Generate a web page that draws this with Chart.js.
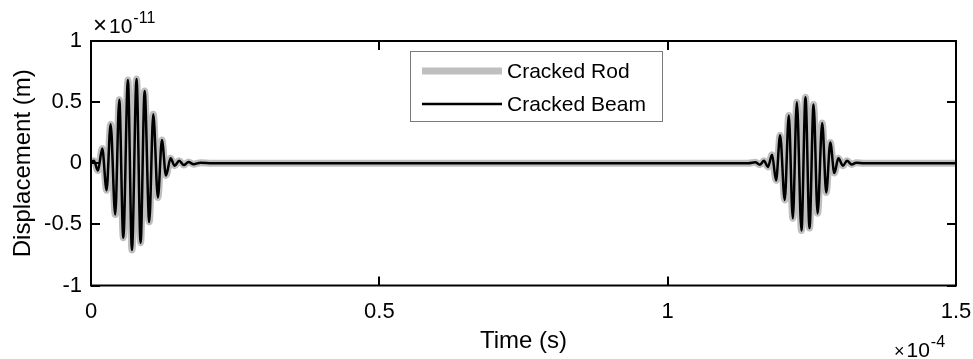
<!DOCTYPE html>
<html lang="en">
<head>
    <meta charset="UTF-8">
    <title>Displacement</title>
    <script src="https://cdn.jsdelivr.net/npm/chart.js"></script>
    <style>
        body {
            margin: 0;
            padding: 0;
            background-color: #ffffff;
        }
        #plot {
            display: block;
        }
    </style>
</head>
<body>
    <canvas id="plot" width="973" height="359"></canvas>

    <script>
        // time in units of 1e-4 s, displacement in units of 1e-11 m
        const timeE4 = [
            0, 0.005, 0.012, 0.0195, 0.027, 0.034, 0.042, 0.049, 0.056, 0.064,
            0.071, 0.079, 0.086, 0.093, 0.101, 0.108, 0.116, 0.123, 0.130, 0.138,
            0.145, 0.153, 0.161, 0.169, 0.178, 0.19, 0.21,
            0.5, 0.9,
            1.14, 1.152, 1.16, 1.167, 1.174, 1.181, 1.188, 1.195, 1.203, 1.210,
            1.217, 1.224, 1.232, 1.239, 1.246, 1.253, 1.260, 1.268, 1.275, 1.282,
            1.289, 1.296, 1.304, 1.311, 1.319, 1.327, 1.34,
            1.5
        ];
        const rodDisp = [
            0.01, 0.02, -0.06, 0.12, -0.22, 0.32, -0.42, 0.52, -0.61, 0.68,
            -0.71, 0.69, -0.65, 0.59, -0.48, 0.40, -0.28, 0.19, -0.10, 0.04,
            -0.02, 0.02, -0.015, 0.01, -0.008, 0.005, 0,
            0, 0,
            0, 0.008, -0.012, 0.02, -0.03, 0.07, -0.14, 0.23, -0.30, 0.39,
            -0.45, 0.50, -0.55, 0.54, -0.53, 0.48, -0.41, 0.33, -0.24, 0.17,
            -0.08, 0.04, -0.02, 0.02, -0.01, 0.005, 0,
            0
        ];
        // the beam response lies right on top of the rod response
        const beamDisp = rodDisp.slice();

        const xTicks = [0, 0.5, 1, 1.5];
        const yTicks = [-1, -0.5, 0, 0.5, 1];
        const seriesNames = ['Cracked Rod', 'Cracked Beam'];

        const FONT = '"Liberation Sans", Arial, sans-serif';

        function toPoints(xs, ys) {
            return xs.map((x, i) => ({ x: x, y: ys[i] }));
        }

        function fmt(v) {
            return String(v);
        }

        // "x10^n" label: times sign, base, raised exponent
        function drawExponent(ctx, x, y, timesSize, exp) {
            ctx.font = timesSize + 'px ' + FONT;
            ctx.fillText('\u00d7', x, y);
            const bx = x + ctx.measureText('\u00d7').width + 2;
            ctx.font = '21px ' + FONT;
            ctx.fillText('10', bx, y);
            const ex = bx + ctx.measureText('10').width + 1;
            ctx.font = '16px ' + FONT;
            ctx.fillText(exp, ex, y - 10);
        }

        // box around the axes, inward ticks on all sides, exponents, legend
        const frame = {
            id: 'frame',
            afterDraw(chart) {
                const ctx = chart.ctx;
                const a = chart.chartArea;
                const xs = chart.scales.x, ys = chart.scales.y;
                const tick = 9;
                ctx.save();
                ctx.strokeStyle = '#000';
                ctx.lineWidth = 2;
                ctx.strokeRect(a.left, a.top, a.right - a.left, a.bottom - a.top);
                ctx.beginPath();
                xTicks.forEach(v => {
                    const px = Math.round(xs.getPixelForValue(v));
                    ctx.moveTo(px, a.bottom); ctx.lineTo(px, a.bottom - tick);
                    ctx.moveTo(px, a.top); ctx.lineTo(px, a.top + tick);
                });
                yTicks.forEach(v => {
                    const py = Math.round(ys.getPixelForValue(v));
                    ctx.moveTo(a.left, py); ctx.lineTo(a.left + tick, py);
                    ctx.moveTo(a.right, py); ctx.lineTo(a.right - tick, py);
                });
                ctx.stroke();

                ctx.fillStyle = '#000';
                ctx.textBaseline = 'alphabetic';
                ctx.textAlign = 'left';
                drawExponent(ctx, 93, 33, 24, '-11');
                drawExponent(ctx, 894, 357, 18, '-4');

                // legend
                const lx = 410.5, ly = 51.5, lw = 252, lh = 70;
                ctx.fillStyle = '#fff';
                ctx.fillRect(lx, ly, lw, lh);
                ctx.strokeStyle = '#7a7a7a';
                ctx.lineWidth = 1;
                ctx.strokeRect(lx, ly, lw, lh);
                const rows = [
                    { y: 71, color: '#bfbfbf', width: 7 },
                    { y: 104, color: '#000', width: 2.5 }
                ];
                ctx.font = '21px ' + FONT;
                ctx.textBaseline = 'middle';
                rows.forEach((r, i) => {
                    ctx.beginPath();
                    ctx.strokeStyle = r.color;
                    ctx.lineWidth = r.width;
                    ctx.moveTo(422, r.y);
                    ctx.lineTo(502, r.y);
                    ctx.stroke();
                    ctx.fillStyle = '#000';
                    ctx.fillText(seriesNames[i], 507, r.y + 1);
                });
                ctx.restore();
            }
        };

        new Chart(document.getElementById('plot'), {
            type: 'line',
            data: {
                datasets: [{
                    label: seriesNames[0],
                    data: toPoints(timeE4, rodDisp),
                    borderColor: '#bfbfbf',
                    borderWidth: 7,
                    pointRadius: 0,
                    cubicInterpolationMode: 'monotone',
                    order: 2
                }, {
                    label: seriesNames[1],
                    data: toPoints(timeE4, beamDisp),
                    borderColor: '#000000',
                    borderWidth: 2.5,
                    pointRadius: 0,
                    cubicInterpolationMode: 'monotone',
                    order: 1
                }]
            },
            options: {
                responsive: false,
                animation: false,
                layout: { padding: { top: 41, right: 17, left: 0, bottom: 0 } },
                plugins: {
                    legend: { display: false },
                    tooltip: { enabled: false }
                },
                scales: {
                    x: {
                        type: 'linear',
                        min: 0,
                        max: 1.5,
                        afterFit(s) {
                            s.height = 73.5;
                            s.paddingLeft = 0;
                            s.paddingRight = 0;
                        },
                        afterBuildTicks(s) { s.ticks = xTicks.map(v => ({ value: v })); },
                        grid: { display: false, drawTicks: false },
                        border: { display: false },
                        ticks: {
                            padding: 13,
                            maxRotation: 0,
                            color: '#000',
                            font: { family: FONT, size: 22 },
                            callback: fmt
                        },
                        title: {
                            display: true,
                            text: 'Time (s)',
                            color: '#000',
                            font: { family: FONT, size: 24 },
                            padding: { bottom: 3, top: 0 }
                        }
                    },
                    y: {
                        min: -1,
                        max: 1,
                        afterFit(s) {
                            s.width = 91;
                            s.paddingTop = 0;
                            s.paddingBottom = 0;
                        },
                        afterBuildTicks(s) { s.ticks = yTicks.map(v => ({ value: v })); },
                        grid: { display: false, drawTicks: false },
                        border: { display: false },
                        ticks: {
                            padding: 9,
                            color: '#000',
                            font: { family: FONT, size: 22 },
                            callback: fmt
                        },
                        title: {
                            display: true,
                            text: 'Displacement (m)',
                            color: '#000',
                            font: { family: FONT, size: 24 },
                            padding: { top: 9, bottom: 0 }
                        }
                    }
                }
            },
            plugins: [frame]
        });
    </script>
</body>
</html>
